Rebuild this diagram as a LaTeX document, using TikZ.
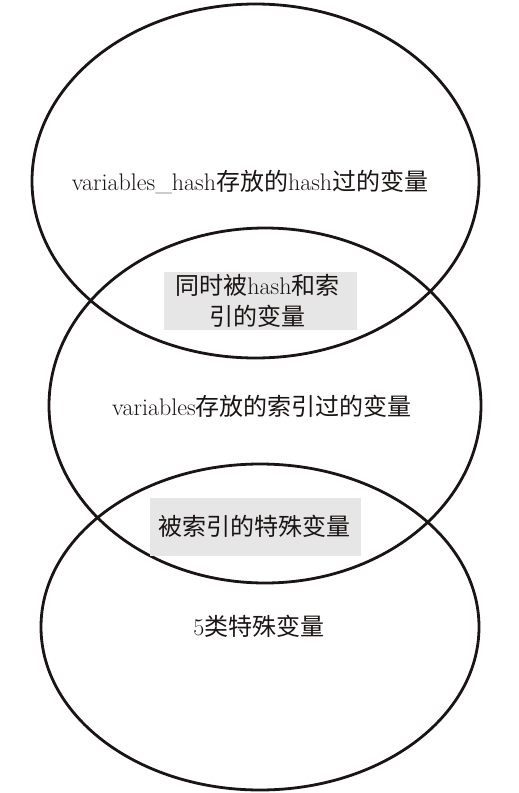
\documentclass[tikz,border=0pt]{standalone}
\usepackage{fontspec}
\newfontfamily\cjk{Noto Sans CJK SC}
\newcommand{\zh}[1]{{\cjk #1}}
\definecolor{inkc}{HTML}{1A1414}
\definecolor{boxgray}{HTML}{E6E6E6}
\tikzset{
  venn/.style={draw=inkc, line width=2.8pt},
  lbl/.style={text=inkc, font=\fontsize{24}{31}\selectfont, inner sep=0pt, align=center},
  graybox/.style={fill=boxgray, draw=none, inner sep=0pt}
}
\begin{document}
\begin{tikzpicture}[x=1pt,y=-1pt]
\useasboundingbox[fill=white] (0,0) rectangle (519,793);
\draw[venn] (255.5,181) ellipse [x radius=223.5, y radius=177];
\draw[venn] (265,405.5) ellipse [x radius=216, y radius=177.5];
\draw[venn] (260,627) ellipse [x radius=219, y radius=163];
\node[graybox, minimum width=193pt, minimum height=58pt] (b1) at (260.5,301) {};
\node[graybox, minimum width=211pt, minimum height=58pt] (b2) at (255.5,527) {};
\node[lbl] (t1) at (250,182) {variables\_hash\zh{存放的}hash\zh{过的变量}};
\node[lbl] (t2) at (257.5,301) {\zh{同时被}hash\zh{和索}\\\zh{引的变量}};
\node[lbl] (t3) at (262,406) {variables\zh{存放的索引过的变量}};
\node[lbl] (t4) at (254,526) {\zh{被索引的特殊变量}};
\node[lbl] (t5) at (259,626) {5\zh{类特殊变量}};
\end{tikzpicture}
\end{document}
